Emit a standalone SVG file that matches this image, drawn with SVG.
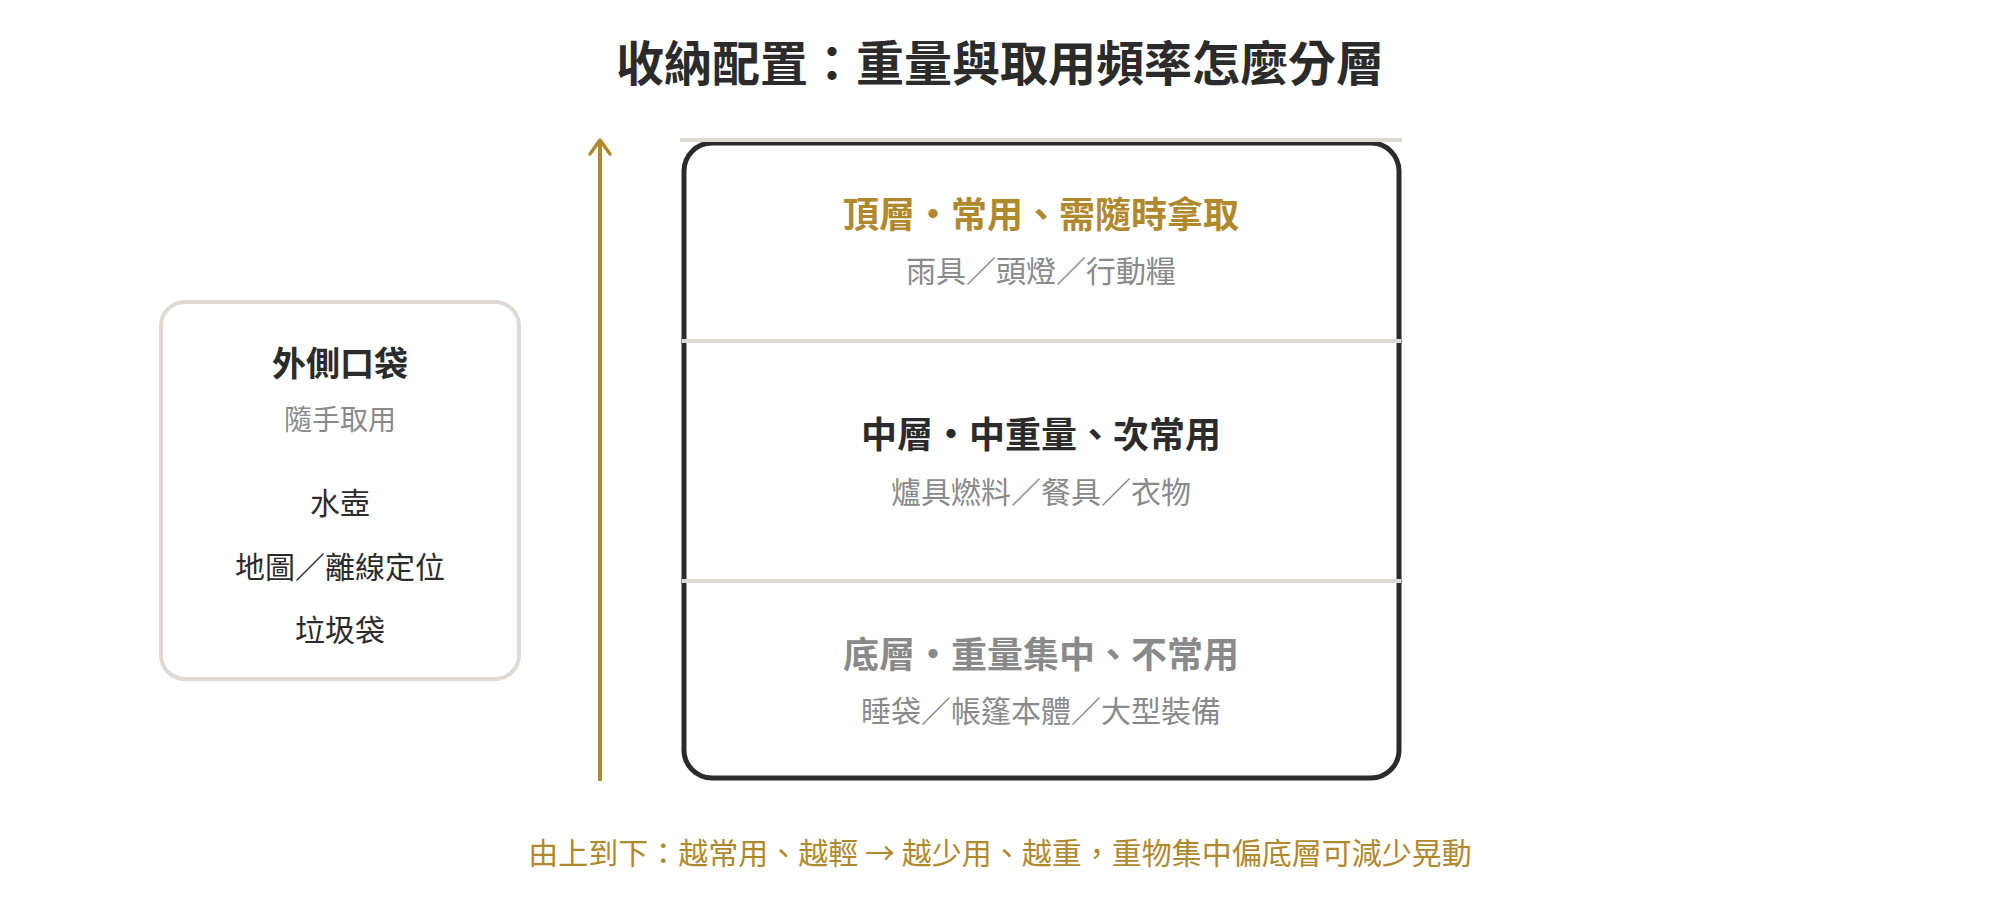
<svg xmlns="http://www.w3.org/2000/svg" width="2000" height="920" viewBox="0 0 2000 920">
  <style>
    text { font-family: "Noto Sans CJK TC", "Noto Sans CJK SC", sans-serif; text-anchor: middle; }
    .title { font-size: 48px; font-weight: 700; fill: #2b2b2b; }
    .lh { font-size: 36px; font-weight: 700; }
    .sub { font-size: 30px; fill: #8a8a8a; }
    .item { font-size: 30px; fill: #2b2b2b; }
    .gold { fill: #b0892c; }
    .dark { fill: #2b2b2b; }
    .gray { fill: #8a8a8a; }
    .sep { stroke: #dedad1; stroke-width: 4; }
  </style>
  <rect width="2000" height="920" fill="#ffffff"/>
  <text class="title" x="1000" y="81">收納配置：重量與取用頻率怎麼分層</text>

  <g id="connectors">
    <line x1="600" y1="781" x2="600" y2="140" stroke="#b0892c" stroke-width="4"/>
    <polyline points="590,154 600,140 610,154" fill="none" stroke="#b0892c" stroke-width="3.5" stroke-linecap="round" stroke-linejoin="round"/>
  </g>

  <g id="pocket">
    <rect x="161" y="302" width="358" height="377" rx="24" fill="#ffffff" stroke="#dedad1" stroke-width="4"/>
    <text class="dark" x="340" y="376" style="font-size:34px;font-weight:700">外側口袋</text>
    <text class="gray" x="340" y="430" style="font-size:28px">隨手取用</text>
    <text class="item" x="340" y="514">水壺</text>
    <text class="item" x="340" y="578">地圖／離線定位</text>
    <text class="item" x="340" y="641">垃圾袋</text>
  </g>

  <g id="pack">
    <rect x="684" y="143" width="715" height="635" rx="28" fill="#ffffff" stroke="#2b2b2b" stroke-width="5"/>
    <line class="sep" x1="680" y1="140" x2="1402" y2="140"/>
    <line class="sep" x1="682" y1="341" x2="1401" y2="341"/>
    <line class="sep" x1="682" y1="581" x2="1401" y2="581"/>
  </g>

  <g id="top-layer">
    <text class="lh gold" x="1041" y="228">頂層・常用、需隨時拿取</text>
    <text class="sub" x="1041" y="282">雨具／頭燈／行動糧</text>
  </g>
  <g id="mid-layer">
    <text class="lh dark" x="1041" y="448">中層・中重量、次常用</text>
    <text class="sub" x="1041" y="503">爐具燃料／餐具／衣物</text>
  </g>
  <g id="bottom-layer">
    <text class="lh gray" x="1041" y="668">底層・重量集中、不常用</text>
    <text class="sub" x="1041" y="722">睡袋／帳篷本體／大型裝備</text>
  </g>

  <text class="gold" x="1000" y="864" style="font-size:30px">由上到下：越常用、越輕 → 越少用、越重，重物集中偏底層可減少晃動</text>
</svg>
